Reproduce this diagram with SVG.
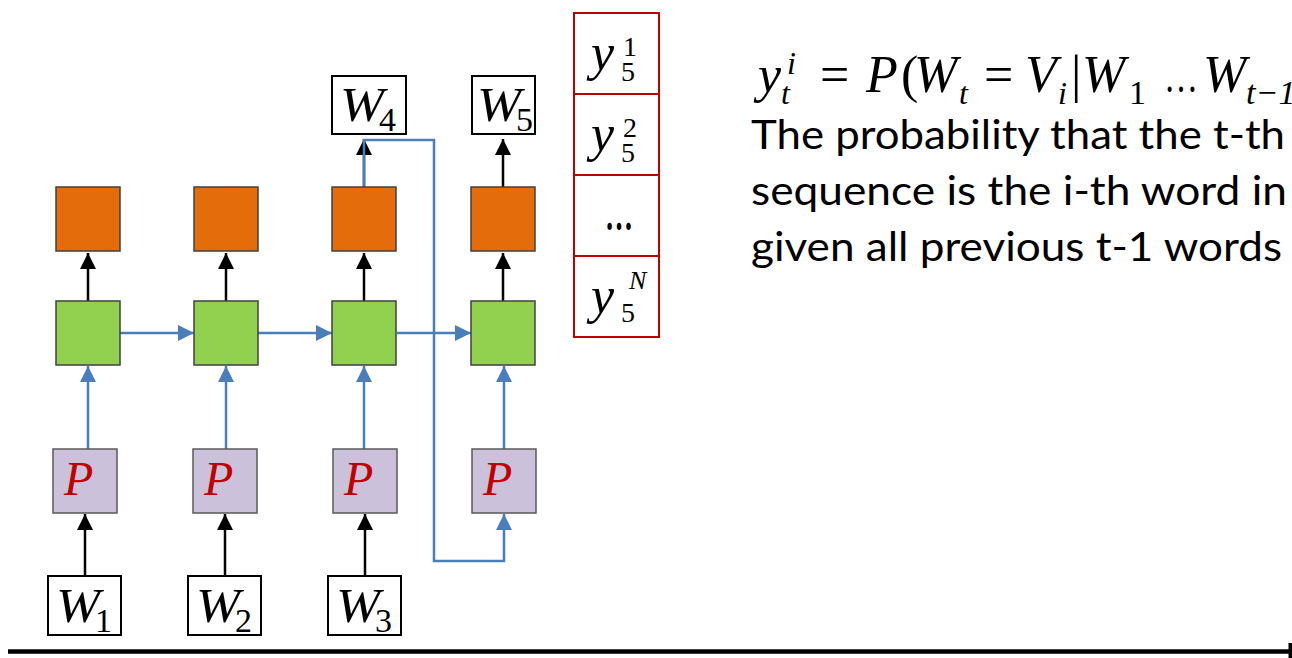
<svg xmlns="http://www.w3.org/2000/svg" width="1292" height="658" viewBox="0 0 1292 658">
<style>
.box{stroke:#404040;stroke-width:1.5}
.orange{fill:#E46C0A}
.green{fill:#92D050}
.purple{fill:#CCC1DA;stroke:#595959;stroke-width:1.5}
.wbox{fill:#fff;stroke:#000;stroke-width:2}
.cell{fill:#fff;stroke:#C00000;stroke-width:2}
.m{font-family:"Liberation Serif","DejaVu Serif",serif;font-style:italic;fill:#000}
.mu{font-family:"Liberation Serif","DejaVu Serif",serif;fill:#000}
.p{font-family:"Liberation Serif","DejaVu Serif",serif;font-style:italic;fill:#C00000;font-size:48px}
.txt{font-family:Lato,"Open Sans",sans-serif;font-size:41px;fill:#000}
.bl{stroke:#000;stroke-width:2.5;fill:none}
.bu{stroke:#4A7EBB;stroke-width:2.5;fill:none}
</style>
<defs>
<marker id="ak" markerUnits="userSpaceOnUse" markerWidth="17" markerHeight="16" refX="16" refY="8" orient="auto"><path d="M0,0 L16,8 L0,16 z" fill="#000"/></marker>
<marker id="ab" markerUnits="userSpaceOnUse" markerWidth="17" markerHeight="16" refX="16" refY="8" orient="auto"><path d="M0,0 L16,8 L0,16 z" fill="#4A7EBB"/></marker>
</defs>

<g id="connectors">
<line class="bl" x1="85" y1="576" x2="85" y2="514" marker-end="url(#ak)"/>
<line class="bl" x1="225" y1="576" x2="225" y2="514" marker-end="url(#ak)"/>
<line class="bl" x1="365" y1="576" x2="365" y2="514" marker-end="url(#ak)"/>
<line class="bu" x1="88" y1="449" x2="88" y2="366" marker-end="url(#ab)"/>
<line class="bu" x1="226" y1="449" x2="226" y2="366" marker-end="url(#ab)"/>
<line class="bu" x1="364" y1="449" x2="364" y2="366" marker-end="url(#ab)"/>
<line class="bu" x1="504" y1="449" x2="504" y2="366" marker-end="url(#ab)"/>
<line class="bu" x1="120" y1="333" x2="194" y2="333" marker-end="url(#ab)"/>
<line class="bu" x1="258" y1="333" x2="332" y2="333" marker-end="url(#ab)"/>
<line class="bu" x1="397" y1="333" x2="471" y2="333" marker-end="url(#ab)"/>
<line class="bl" x1="88" y1="301" x2="88" y2="253" marker-end="url(#ak)"/>
<line class="bl" x1="226" y1="301" x2="226" y2="253" marker-end="url(#ak)"/>
<line class="bl" x1="364" y1="301" x2="364" y2="253" marker-end="url(#ak)"/>
<line class="bl" x1="503" y1="301" x2="503" y2="253" marker-end="url(#ak)"/>
<line class="bl" x1="364" y1="187" x2="364" y2="139" marker-end="url(#ak)"/>
<line class="bl" x1="503" y1="187" x2="503" y2="139" marker-end="url(#ak)"/>
<polyline class="bu" points="364,187 364,140 434,140 434,561 504,561 504,514" marker-end="url(#ab)"/>
<line x1="8" y1="651.5" x2="1290" y2="651.5" stroke="#000" stroke-width="4.5"/>
<rect x="1288.5" y="643" width="3.5" height="15" fill="#000"/>
</g>

<g id="out1"><rect class="box orange" x="56" y="187" width="64" height="64"/></g>
<g id="out2"><rect class="box orange" x="194" y="187" width="64" height="64"/></g>
<g id="out3"><rect class="box orange" x="332" y="187" width="64" height="64"/></g>
<g id="out4"><rect class="box orange" x="471" y="187" width="64" height="64"/></g>

<g id="h1"><rect class="box green" x="56" y="301" width="64" height="64"/></g>
<g id="h2"><rect class="box green" x="194" y="301" width="64" height="64"/></g>
<g id="h3"><rect class="box green" x="332" y="301" width="64" height="64"/></g>
<g id="h4"><rect class="box green" x="471" y="301" width="64" height="64"/></g>

<g id="p1"><rect class="purple" x="53" y="449" width="64" height="64"/><text class="p" x="64" y="495">P</text></g>
<g id="p2"><rect class="purple" x="193" y="449" width="64" height="64"/><text class="p" x="204" y="495">P</text></g>
<g id="p3"><rect class="purple" x="333" y="449" width="64" height="64"/><text class="p" x="344" y="495">P</text></g>
<g id="p4"><rect class="purple" x="472" y="449" width="64" height="64"/><text class="p" x="483" y="495">P</text></g>

<g id="w1"><rect class="wbox" x="48" y="576" width="73" height="59"/><text class="m" x="56" y="622" font-size="48" textLength="44" lengthAdjust="spacingAndGlyphs">W</text><text class="mu" x="95" y="632" font-size="34">1</text></g>
<g id="w2"><rect class="wbox" x="188" y="576" width="73" height="59"/><text class="m" x="196" y="622" font-size="48" textLength="44" lengthAdjust="spacingAndGlyphs">W</text><text class="mu" x="235" y="632" font-size="34">2</text></g>
<g id="w3"><rect class="wbox" x="328" y="576" width="73" height="59"/><text class="m" x="336" y="622" font-size="48" textLength="44" lengthAdjust="spacingAndGlyphs">W</text><text class="mu" x="375" y="632" font-size="34">3</text></g>
<g id="w4"><rect class="wbox" x="332" y="76" width="74" height="58"/><text class="m" x="340" y="121" font-size="48" textLength="44" lengthAdjust="spacingAndGlyphs">W</text><text class="mu" x="379" y="131" font-size="34">4</text></g>
<g id="w5"><rect class="wbox" x="472" y="76" width="63" height="58"/><text class="m" x="477" y="121" font-size="48" textLength="44" lengthAdjust="spacingAndGlyphs">W</text><text class="mu" x="516" y="131" font-size="34">5</text></g>

<g id="output-table">
<rect class="cell" x="574" y="13" width="85" height="81"/>
<rect class="cell" x="574" y="94" width="85" height="81"/>
<rect class="cell" x="574" y="175" width="85" height="81"/>
<rect class="cell" x="574" y="256" width="85" height="81"/>
<text class="m" x="591" y="70" font-size="52">y</text><text class="mu" x="623" y="56" font-size="28">1</text><text class="mu" x="621" y="81" font-size="28">5</text>
<text class="m" x="591" y="151" font-size="52">y</text><text class="mu" x="623" y="137" font-size="28">2</text><text class="mu" x="621" y="162" font-size="28">5</text>
<text x="605" y="230" font-size="44" font-weight="bold" textLength="28" lengthAdjust="spacingAndGlyphs" font-family="Liberation Serif, serif">…</text>
<text class="m" x="591" y="313" font-size="52">y</text><text class="m" x="629" y="289" font-size="26">N</text><text class="mu" x="621" y="322" font-size="28">5</text>
</g>

<g id="formula">
<text class="m" x="758" y="92" font-size="52">y</text>
<text class="m" x="787" y="74" font-size="32">i</text>
<text class="m" x="781" y="104" font-size="32">t</text>
<text class="mu" x="820" y="92" font-size="52">=</text>
<text class="m" x="866" y="92" font-size="52">P</text>
<text class="mu" x="901" y="92" font-size="52">(</text>
<text class="m" x="914" y="92" font-size="52">W</text>
<text class="m" x="959" y="104" font-size="32">t</text>
<text class="mu" x="984" y="92" font-size="52">=</text>
<text class="m" x="1025" y="92" font-size="52">V</text>
<text class="m" x="1058" y="104" font-size="32">i</text>
<text class="mu" x="1071" y="92" font-size="52">|</text>
<text class="m" x="1082" y="92" font-size="52">W</text>
<text class="mu" x="1129" y="104" font-size="34">1</text>
<text class="mu" x="1164" y="92" font-size="46" textLength="34" lengthAdjust="spacingAndGlyphs">…</text>
<text class="m" x="1203" y="92" font-size="52">W</text>
<text class="m" x="1246" y="104" font-size="34">t−1</text>
</g>

<g id="description">
<text class="txt" x="751" y="149" textLength="534" lengthAdjust="spacingAndGlyphs">The probability that the t-th</text>
<text class="txt" x="751" y="205" textLength="536" lengthAdjust="spacingAndGlyphs">sequence is the i-th word in</text>
<text class="txt" x="751" y="261" textLength="531" lengthAdjust="spacingAndGlyphs">given all previous t-1 words</text>
</g>
</svg>
